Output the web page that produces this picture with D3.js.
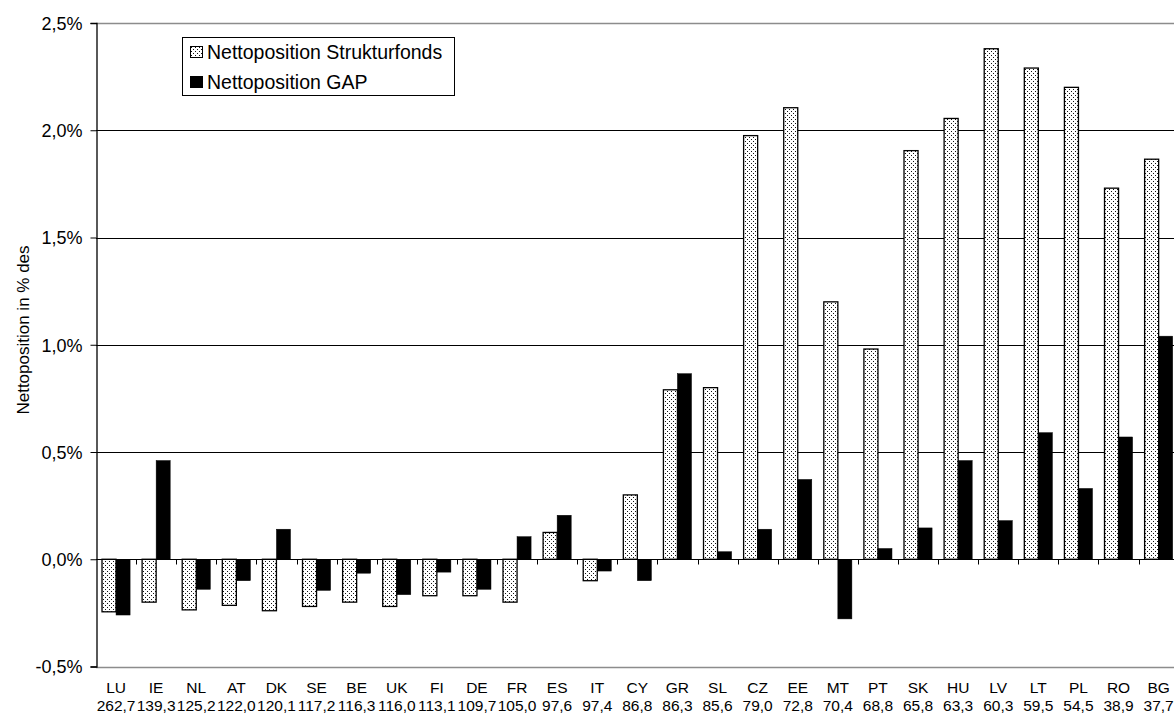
<!DOCTYPE html>
<html>
<head>
<meta charset="utf-8">
<script src="https://cdn.jsdelivr.net/npm/d3@7"></script>
<style>
  html, body { margin: 0; padding: 0; background: #fff; }
  svg { display: block; font-family: "Liberation Sans", Arial, sans-serif; }
</style>
</head>
<body>
<svg id="chart" width="1174" height="713"></svg>
<script>
const countries = ["LU","IE","NL","AT","DK","SE","BE","UK","FI","DE","FR","ES","IT","CY","GR","SL","CZ","EE","MT","PT","SK","HU","LV","LT","PL","RO","BG"];
const gdpIndex = ["262,7","139,3","125,2","122,0","120,1","117,2","116,3","116,0","113,1","109,7","105,0","97,6","97,4","86,8","86,3","85,6","79,0","72,8","70,4","68,8","65,8","63,3","60,3","59,5","54,5","38,9","37,7"];
const strukturfonds = [-0.245,-0.20,-0.236,-0.215,-0.24,-0.22,-0.20,-0.22,-0.17,-0.17,-0.20,0.125,-0.10,0.30,0.79,0.80,1.975,2.105,1.20,0.98,1.905,2.055,2.38,2.29,2.20,1.73,1.865];
const gap = [-0.26,0.46,-0.14,-0.10,0.14,-0.145,-0.065,-0.165,-0.06,-0.14,0.105,0.205,-0.055,-0.10,0.865,0.035,0.14,0.372,-0.278,0.05,0.146,0.46,0.18,0.59,0.33,0.57,1.04];
const yTicks = [-0.5,0,0.5,1.0,1.5,2.0,2.5];
const seriesNames = ["Nettoposition Strukturfonds","Nettoposition GAP"];
const yTitle = "Nettoposition in % des";

(function () {
const svg = d3.select("#chart");
const mLeft = 96, mTop = 23, mBottom = 666.5;
const step = 40.1;
const mRight = mLeft + step * countries.length;

const defs = svg.append("defs");
const pat = defs.append("pattern").attr("id","dots").attr("patternUnits","userSpaceOnUse")
  .attr("width",4).attr("height",4);
pat.append("rect").attr("width",4).attr("height",4).attr("fill","#fff");
pat.append("rect").attr("x",1).attr("y",1).attr("width",1).attr("height",1).attr("fill","#111");
pat.append("rect").attr("x",3).attr("y",3).attr("width",1).attr("height",1).attr("fill","#111");

const x = d3.scaleBand().domain(countries).range([mLeft, mRight]).paddingInner(0.3).paddingOuter(0.15);
const xi = d3.scaleBand().domain([0,1]).range([0, x.bandwidth()]);
const y = d3.scaleLinear().domain([-0.5, 2.5]).range([mBottom, mTop]);

const loc = d3.formatLocale({decimal: ",", thousands: ".", grouping: [3], currency: ["", "€"], minus: "-"});
const fmt = v => loc.format(".1f")(v) + "%";

// gridlines
svg.append("g").selectAll("line").data(yTicks.filter(t => t > -0.5 && t < 2.5)).join("line")
  .attr("x1", mLeft).attr("x2", 1174).attr("y1", d => Math.round(y(d)) + 0.5).attr("y2", d => Math.round(y(d)) + 0.5)
  .attr("stroke", "#000").attr("stroke-width", 1);
// plot border top and bottom (gray)
[2.5, -0.5].forEach(t => {
  svg.append("line").attr("x1", mLeft).attr("x2", 1174)
    .attr("y1", Math.round(y(t)) + 0.5).attr("y2", Math.round(y(t)) + 0.5)
    .attr("stroke", "#8c8c8c").attr("stroke-width", 1.5);
});

// bars
const g = svg.append("g");
countries.forEach((c, i) => {
  const vals = [strukturfonds[i], gap[i]];
  vals.forEach((v, s) => {
    const x0 = x(c) + xi(s);
    const y0 = Math.min(y(0), y(v));
    const h = Math.abs(y(v) - y(0));
    g.append("rect")
      .attr("x", x0).attr("y", y0).attr("width", xi.bandwidth()).attr("height", h)
      .attr("fill", s === 0 ? "url(#dots)" : "#000")
      .attr("stroke", "#000").attr("stroke-width", s === 0 ? 1.3 : 0.5);
  });
});

// zero line with ticks
const z = Math.round(y(0)) + 0.5;
svg.append("line").attr("x1", mLeft).attr("x2", 1174).attr("y1", z).attr("y2", z).attr("stroke", "#000").attr("stroke-width", 1);
svg.append("g").selectAll("line").data(countries.slice(1)).join("line")
  .attr("x1", d => Math.round(x(d) - x.step() * x.paddingInner() / 2) + 0.5)
  .attr("x2", d => Math.round(x(d) - x.step() * x.paddingInner() / 2) + 0.5)
  .attr("y1", z).attr("y2", z + 5).attr("stroke", "#000");

// y axis
const yAxis = d3.axisLeft(y).tickValues(yTicks).tickFormat(fmt).tickSize(6).tickPadding(8);
const ya = svg.append("g").attr("transform", `translate(${mLeft + 0.5},0)`).call(yAxis);
ya.select(".domain").attr("stroke", "#000").attr("stroke-width", 1.3);
ya.selectAll(".tick line").attr("stroke", "#000");
ya.selectAll(".tick text").attr("font-size", 18).attr("fill", "#000")
  .attr("font-family", '"Liberation Sans", Arial, sans-serif').attr("dy", "0.35em");

// x labels
const xl = svg.append("g");
countries.forEach((c, i) => {
  const cx = x(c) + x.bandwidth() / 2;
  xl.append("text").attr("x", cx).attr("y", 693).attr("text-anchor", "middle")
    .attr("font-size", 15.5).text(c);
  xl.append("text").attr("x", cx).attr("y", 711).attr("text-anchor", "middle")
    .attr("font-size", 15.5).text(gdpIndex[i]);
});

// y title
svg.append("text").attr("transform", "translate(29,330) rotate(-90)")
  .attr("text-anchor", "middle").attr("font-size", 17).text(yTitle);

// legend
const lg = svg.append("g");
lg.append("rect").attr("x", 182.5).attr("y", 37.5).attr("width", 272).attr("height", 58)
  .attr("fill", "#fff").attr("stroke", "#000").attr("stroke-width", 1);
seriesNames.forEach((n, s) => {
  const cy = 52 + s * 30;
  lg.append("rect").attr("x", 190.5).attr("y", cy - 5.5).attr("width", 12).attr("height", 11)
    .attr("fill", s === 0 ? "url(#dots)" : "#000").attr("stroke", "#000").attr("stroke-width", 1);
  lg.append("text").attr("x", 207).attr("y", cy).attr("dy", "0.36em").attr("font-size", 19.5).text(n);
});
})();
</script>
</body>
</html>
